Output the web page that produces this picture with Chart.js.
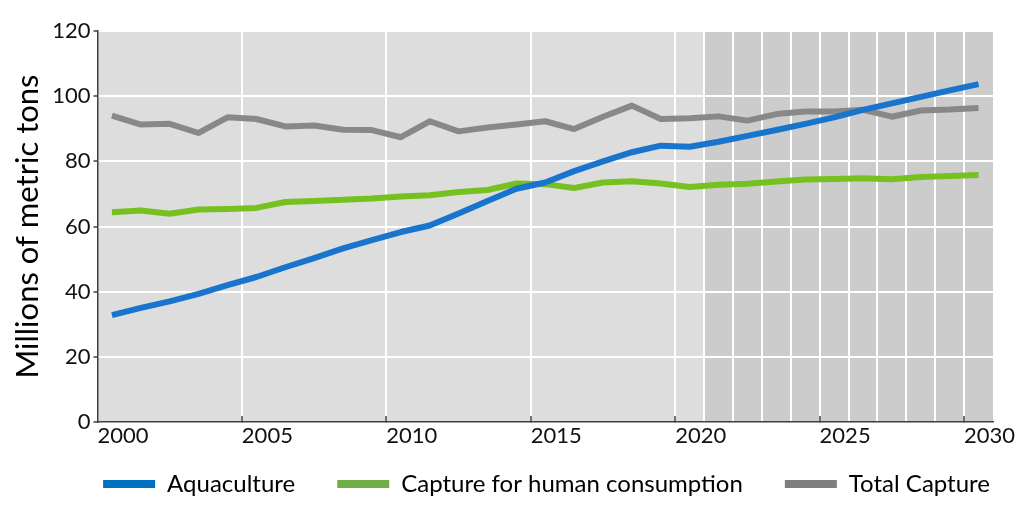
<!DOCTYPE html>
<html>
<head>
<meta charset="utf-8">
<script src="https://cdn.jsdelivr.net/npm/chart.js@4.4.1/dist/chart.umd.min.js"></script>
<style>
  html, body { margin: 0; padding: 0; background: #fff; }
  #wrap { width: 1024px; height: 514px; }
</style>
</head>
<body>
<div id="wrap"><canvas id="fishChart"></canvas></div>
<script>
const years = [2000, 2001, 2002, 2003, 2004, 2005, 2006, 2007, 2008, 2009, 2010,
               2011, 2012, 2013, 2014, 2015, 2016, 2017, 2018, 2019, 2020,
               2021, 2022, 2023, 2024, 2025, 2026, 2027, 2028, 2029, 2030];
const aquaculture = [32.8, 35.0, 37.0, 39.3, 42.0, 44.5, 47.5, 50.3, 53.3, 55.8, 58.3,
                     60.3, 64.0, 67.8, 71.6, 73.5, 77.0, 80.0, 82.8, 84.8, 84.5,
                     86.0, 87.8, 89.6, 91.5, 93.5, 95.8, 97.8, 99.8, 101.8, 103.7];
const captureHuman = [64.4, 64.9, 63.9, 65.2, 65.4, 65.7, 67.5, 67.8, 68.2, 68.6, 69.2,
                      69.6, 70.6, 71.2, 73.2, 73.0, 71.8, 73.5, 73.9, 73.2, 72.1,
                      72.8, 73.1, 73.8, 74.4, 74.6, 74.8, 74.5, 75.2, 75.5, 75.8];
const totalCapture = [94.0, 91.3, 91.5, 88.7, 93.5, 93.0, 90.7, 91.0, 89.7, 89.6, 87.4,
                      92.3, 89.2, 90.4, 91.3, 92.3, 89.9, 93.7, 97.1, 93.0, 93.2,
                      93.8, 92.5, 94.5, 95.3, 95.3, 95.8, 93.7, 95.6, 95.9, 96.4];
const yTicks = [0, 20, 40, 60, 80, 100, 120];
const projectionStart = 2021;

const FONT = 'Lato, "Noto Sans", sans-serif';
const legendColors = ['#0070c0', '#70ad47', '#7f7f7f'];

// grey plot background, darker from the projection years on
const plotBackground = {
    id: 'plotBackground',
    beforeDraw(chart) {
        const { ctx, chartArea: a, scales: { x } } = chart;
        const i = years.indexOf(projectionStart);
        const split = (x.getPixelForValue(i - 1) + x.getPixelForValue(i)) / 2;
        ctx.save();
        ctx.fillStyle = '#dddddd';
        ctx.fillRect(a.left, a.top, split - a.left, a.bottom - a.top);
        ctx.fillStyle = '#cccccc';
        ctx.fillRect(split, a.top, a.right - split, a.bottom - a.top);
        ctx.restore();
    }
};

// legend padding is also used vertically, so pull the legend up under the axis labels
const legendLift = {
    id: 'legendLift',
    afterLayout(chart) {
        const lg = chart.legend;
        const dy = lg.top - (chart.scales.x.top + 8);
        lg.top -= dy; lg.bottom -= dy;
    }
};

const lineSet = (label, data, color) => ({
    label, data,
    borderColor: color, backgroundColor: color,
    borderWidth: 6, pointRadius: 0, pointHoverRadius: 0,
    tension: 0, borderCapStyle: 'butt', borderJoinStyle: 'round', fill: false
});

new Chart(document.getElementById('fishChart'), {
    type: 'line',
    data: {
        labels: years,
        datasets: [
            lineSet('Aquaculture', aquaculture, '#1874cd'),
            lineSet('Capture for human consumption', captureHuman, '#76c11f'),
            lineSet('Total Capture', totalCapture, '#888888')
        ]
    },
    plugins: [plotBackground, legendLift],
    options: {
        responsive: true,
        maintainAspectRatio: false,
        animation: false,
        layout: { padding: { left: 0, right: -8, top: 31, bottom: -14 } },
        plugins: {
            tooltip: { enabled: false },
            legend: {
                position: 'bottom',
                align: 'end',
                labels: {
                    boxWidth: 52, boxHeight: 8, padding: 42,
                    color: '#000', font: { family: FONT, size: 24 },
                    generateLabels(chart) {
                        return Chart.defaults.plugins.legend.labels.generateLabels(chart).map((l, i) => {
                            l.fillStyle = legendColors[i]; l.strokeStyle = legendColors[i]; l.lineWidth = 0;
                            return l;
                        });
                    }
                }
            }
        },
        scales: {
            x: {
                type: 'category',
                offset: true,
                afterFit(s) { s.height = 30; },
                grid: {
                    offset: true,
                    lineWidth: 2,
                    tickLength: -6,
                    tickWidth: 1.5,
                    color: ctx => {
                        const i = ctx.index;
                        if (i === undefined || i === 0) return 'transparent';
                        return (i % 5 === 0 || years[i] >= projectionStart) ? '#ffffff' : 'transparent';
                    },
                    tickColor: ctx => (ctx.index > 0 && ctx.index % 5 === 0) ? '#404040' : 'transparent'
                },
                border: { color: '#404040', width: 1.5 },
                ticks: {
                    autoSkip: false, maxRotation: 0, minRotation: 0,
                    labelOffset: 11, padding: 7,
                    color: '#111', font: { family: FONT, size: 22 },
                    callback(value) {
                        const yr = this.getLabelForValue(value);
                        return yr % 5 === 0 ? String(yr) : '';
                    }
                }
            },
            y: {
                min: 0, max: 120,
                afterFit(s) { s.width = 97.5; },
                afterBuildTicks(s) { s.ticks = yTicks.map(v => ({ value: v })); },
                grid: {
                    lineWidth: 2, tickLength: 4, tickWidth: 1.5,
                    color: ctx => ctx.tick && ctx.tick.value === 0 ? 'transparent' : '#ffffff',
                    tickColor: '#404040'
                },
                border: { color: '#404040', width: 1.5 },
                ticks: { padding: 3, color: '#111', font: { family: FONT, size: 22 } },
                title: {
                    display: true, text: 'Millions of metric tons',
                    color: '#000', font: { family: FONT, size: 31 },
                    padding: { top: 9, bottom: 0 }
                }
            },
            y2: {
                position: 'right',
                afterFit(s) { s.width = 39; },
                grid: { display: false },
                border: { display: false },
                ticks: { display: false }
            }
        }
    }
});
</script>
</body>
</html>
